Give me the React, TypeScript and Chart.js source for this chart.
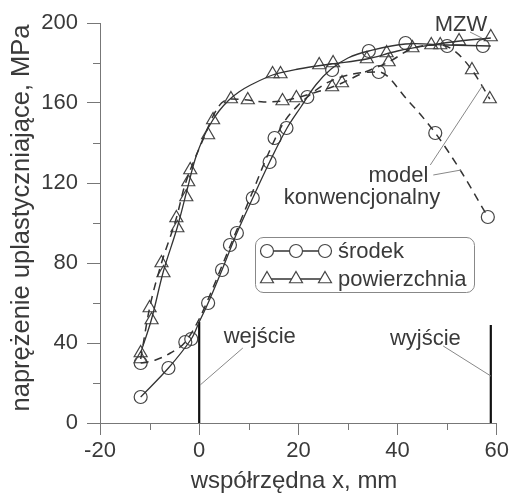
import React, { useEffect, useRef } from "react";
import { Chart, registerables } from "chart.js";

Chart.register(...registerables);

const FONT = '"Liberation Sans", Arial, Helvetica, sans-serif';
const TEXT = "#3a3a3a";
const AXIS = "#777";
const LINE = "#333";

// axis ticks
const xTicks = [-20, 0, 20, 40, 60];
const xMinorTicks = [-10, 10, 30, 50];
const yTicks = [0, 40, 80, 120, 160, 200];
const yMinorTicks = [20, 60, 100, 140, 180];

const xTitle = "współrzędna x, mm";
const yTitle = "naprężenie uplastyczniające, MPa";

// środek (centre) – MZW model (solid)
const midMzwX = [-11.8, -6.2, -1.6, 0, 1.8, 4.6, 7.6, 10.8, 14.2, 17.6, 20.5, 23.5, 26.6, 30, 34.2, 41.6, 50, 58.8];
const midMzwY = [13, 27.5, 42, 50.5, 60, 76.5, 95, 112.5, 130.5, 147, 158, 169, 177, 182.5, 186, 189.5, 189, 188.5];

// środek – conventional model (dashed)
const midConvX = [-11.8, -8.8, -5.8, -2.8, 0, 2, 5, 8, 11, 14, 17, 20, 21.8, 25, 28, 31, 36.2, 42, 47.6, 53, 58.2];
const midConvY = [30, 31.5, 35, 40.5, 52, 63, 81, 99, 117, 135, 150, 159, 163, 169, 172.5, 174.5, 175.5, 161.5, 145, 125, 103];

// powierzchnia (surface) – MZW model (solid)
const surfMzwX = [-11.8, -9.6, -7.2, -4.4, -2.4, -0.8, 1, 2.5, 4, 6, 8, 10, 14.8, 20, 26.6, 33.8, 40, 46.8, 52.6, 58.8];
const surfMzwY = [35, 52, 76, 98, 117, 132, 143.5, 150.5, 156, 161.5, 165.5, 168.5, 174, 177, 179.5, 182, 186, 189, 191, 192.5];

// powierzchnia – conventional model (dashed)
const surfConvX = [-11.8, -10, -7.6, -4.6, -3, -1.4, 1, 2.6, 4.5, 6.6, 9.8, 13, 16.8, 19.6, 23, 26.8, 28.8, 33, 38.2, 43.2, 48.6, 51.5, 55, 58.6];
const surfConvY = [32, 57.5, 80, 102.5, 118, 129, 143, 152.5, 160, 162, 161.5, 160.5, 161, 162.5, 165, 168, 170, 175, 180.5, 187.5, 189, 186, 176.5, 162];

// markers: środek (circles)
const midPtsX = [-11.8, -11.8, -6.2, -2.8, -1.6, 1.8, 4.6, 6.2, 7.6, 10.8, 14.2, 15.2, 17.6, 21.8, 26.8, 34.2, 36.2, 41.6, 47.6, 50, 57.2, 58.2];
const midPtsY = [13, 30, 27.5, 40.5, 42, 60, 76.5, 89, 95, 112.5, 130.5, 142.5, 147.5, 163, 176.5, 186, 175.5, 190, 145, 188.5, 188.5, 103];

// markers: powierzchnia (triangles)
const surfPtsX = [-11.8, -11.8, -10, -9.6, -7.6, -7.2, -4.6, -4.4, -2.6, -2.2, -1.8, 1.8, 2.8, 6.4, 9.8, 14.8, 16.4, 16.8, 19.6, 24.2, 27, 26.8, 28.8, 33.8, 37.8, 38.2, 43, 46.8, 48.6, 52.4, 55, 58.8, 58.6];
const surfPtsY = [35, 32, 57.5, 51.5, 80, 75, 102.5, 97.5, 113, 120.5, 126.5, 144, 151.5, 162, 161.5, 174.5, 174.5, 161, 162.5, 179, 180, 168, 170, 182, 185, 180.5, 187.5, 189, 189, 191, 176.5, 193, 162];

// entry / exit of the deformation zone
const gateX = [0, 58.8];
const gateTop = [50.5, 49];

const legendLabels = ["środek", "powierzchnia"];

const pts = (xs: number[], ys: number[]) => xs.map((x, i) => ({ x, y: ys[i] }));

const annotationPlugin = {
  id: "annotations",
  afterDraw(chart: any) {
    const { ctx, chartArea } = chart;
    const xs = chart.scales.x;
    const ys = chart.scales.y;
    const px = (v: number) => xs.getPixelForValue(v);
    const py = (v: number) => ys.getPixelForValue(v);
    const seg = (x1: number, y1: number, x2: number, y2: number) => {
      ctx.beginPath();
      ctx.moveTo(x1, y1);
      ctx.lineTo(x2, y2);
      ctx.stroke();
    };
    ctx.save();
    // minor ticks
    ctx.strokeStyle = AXIS;
    ctx.lineWidth = 1;
    xMinorTicks.forEach((v) => {
      const X = Math.round(px(v)) + 0.5;
      seg(X, chartArea.bottom, X, chartArea.bottom + 7);
    });
    yMinorTicks.forEach((v) => {
      const Y = Math.round(py(v)) + 0.5;
      seg(chartArea.left - 7, Y, chartArea.left, Y);
    });

    // axis titles
    ctx.fillStyle = TEXT;
    ctx.textAlign = "center";
    ctx.textBaseline = "alphabetic";
    ctx.font = `24px ${FONT}`;
    ctx.fillText(xTitle, 294, 488);
    ctx.save();
    ctx.font = `25.5px ${FONT}`;
    ctx.translate(29, 218);
    ctx.rotate(-Math.PI / 2);
    ctx.fillText(yTitle, 0, 0);
    ctx.restore();

    // annotation texts
    ctx.font = `22px ${FONT}`;
    ctx.fillText("wejście", px(12.2), py(40));
    ctx.fillText("wyjście", px(45.6), py(39));
    ctx.textAlign = "right";
    ctx.fillText("model", px(46.2), py(120.5));
    ctx.fillText("konwencjonalny", px(48.6), py(109.5));
    ctx.textAlign = "center";
    ctx.fillText("MZW", px(52.8), py(196));

    // leader lines
    ctx.strokeStyle = "#888";
    ctx.lineWidth = 1;
    seg(px(8.8), py(37.5), px(0.2), py(19));
    seg(px(49.2), py(38.5), px(58.8), py(23.5));
    seg(px(46.6), py(129), px(57.2), py(169));
    seg(px(47.2), py(124), px(52.8), py(126.5));
    seg(px(54.6), py(195.5), px(57), py(192.5));

    // legend
    const L = 255, T = 237, R = 475, B = 293, r = 8;
    ctx.strokeStyle = "#888";
    ctx.lineWidth = 1;
    ctx.beginPath();
    ctx.moveTo(L + r, T + 0.5);
    ctx.lineTo(R - r, T + 0.5);
    ctx.arcTo(R - 0.5, T + 0.5, R - 0.5, T + r, r);
    ctx.lineTo(R - 0.5, B - r);
    ctx.arcTo(R - 0.5, B - 0.5, R - r, B - 0.5, r);
    ctx.lineTo(L + r, B - 0.5);
    ctx.arcTo(L + 0.5, B - 0.5, L + 0.5, B - r, r);
    ctx.lineTo(L + 0.5, T + r);
    ctx.arcTo(L + 0.5, T + 0.5, L + r, T + 0.5, r);
    ctx.stroke();

    const rows = [251, 279];
    const mx = [267, 296, 325];
    rows.forEach((ry, i) => {
      ctx.strokeStyle = LINE;
      ctx.lineWidth = 1.3;
      seg(mx[0], ry, mx[2], ry);
      ctx.strokeStyle = "#444";
      ctx.lineWidth = 1.2;
      mx.forEach((cx) => {
        ctx.beginPath();
        ctx.fillStyle = "#fff";
        if (i === 0) {
          ctx.arc(cx, ry, 6.5, 0, Math.PI * 2);
        } else {
          const rr = 7.5;
          ctx.moveTo(cx, ry - rr);
          ctx.lineTo(cx + rr * Math.sin((2 * Math.PI) / 3), ry - rr * Math.cos((2 * Math.PI) / 3));
          ctx.lineTo(cx + rr * Math.sin((4 * Math.PI) / 3), ry - rr * Math.cos((4 * Math.PI) / 3));
          ctx.closePath();
        }
        ctx.fill();
        ctx.stroke();
      });
      ctx.fillStyle = TEXT;
      ctx.textAlign = "left";
      ctx.textBaseline = "middle";
      ctx.fillText(legendLabels[i], 338, ry + 1);
    });
    ctx.restore();
  },
};

export default function App() {
  const ref = useRef<HTMLCanvasElement | null>(null);
  useEffect(() => {
    if (!ref.current) return;
    const lineDs = (xs: number[], ys: number[], dashed: boolean) => ({
      type: "line",
      data: pts(xs, ys),
      borderColor: LINE,
      borderWidth: dashed ? 1.5 : 1.3,
      borderDash: dashed ? [8, 6] : [],
      pointRadius: 0,
      cubicInterpolationMode: dashed ? "monotone" : "default",
      tension: dashed ? 0 : 0.35,
      fill: false,
      clip: false,
    });
    const markDs = (xs: number[], ys: number[], style: string, radius: number) => ({
      type: "line",
      data: pts(xs, ys),
      showLine: false,
      pointStyle: style,
      pointRadius: radius,
      pointBorderColor: "#444",
      pointBackgroundColor: "rgba(0,0,0,0)",
      pointBorderWidth: 1.2,
      clip: false,
    });
    const gateDs = (i: number) => ({
      type: "line",
      data: [
        { x: gateX[i], y: 0 },
        { x: gateX[i], y: gateTop[i] },
      ],
      borderColor: "#111",
      borderWidth: 2.2,
      pointRadius: 0,
      fill: false,
    });
    const chart = new Chart(ref.current, {
      type: "line",
      data: {
        datasets: [
          lineDs(midMzwX, midMzwY, false),
          lineDs(midConvX, midConvY, true),
          lineDs(surfMzwX, surfMzwY, false),
          lineDs(surfConvX, surfConvY, true),
          markDs(midPtsX, midPtsY, "circle", 6.5),
          markDs(surfPtsX, surfPtsY, "triangle", 7.5),
          gateDs(0),
          gateDs(1),
        ] as any,
      },
      options: {
        animation: false,
        responsive: true,
        maintainAspectRatio: false,
        events: [],
        layout: { padding: { top: 23, right: 14, left: 0, bottom: 0 } },
        plugins: { legend: { display: false }, tooltip: { enabled: false } },
        scales: {
          x: {
            type: "linear",
            min: -20,
            max: 60,
            afterBuildTicks: (s: any) => {
              s.ticks = xTicks.map((v) => ({ value: v }));
            },
            afterFit: (s: any) => {
              s.height = 72;
            },
            ticks: { color: TEXT, font: { family: FONT, size: 22 }, padding: 3, maxRotation: 0 },
            grid: { drawOnChartArea: false, tickLength: 12, color: AXIS, tickColor: AXIS },
            border: { color: AXIS, width: 1 },
          },
          y: {
            type: "linear",
            min: 0,
            max: 200,
            afterBuildTicks: (s: any) => {
              s.ticks = yTicks.map((v) => ({ value: v }));
            },
            afterFit: (s: any) => {
              s.width = 100;
            },
            ticks: { color: TEXT, font: { family: FONT, size: 22 }, padding: 9 },
            grid: { drawOnChartArea: false, tickLength: 13, color: AXIS, tickColor: AXIS },
            border: { color: AXIS, width: 1 },
          },
        },
      },
      plugins: [annotationPlugin],
    } as any);
    return () => chart.destroy();
  }, []);
  return (
    <div style={{ position: "absolute", left: 0, top: 0, width: 512, height: 495, background: "#fff" }}>
      <canvas ref={ref} />
    </div>
  );
}
